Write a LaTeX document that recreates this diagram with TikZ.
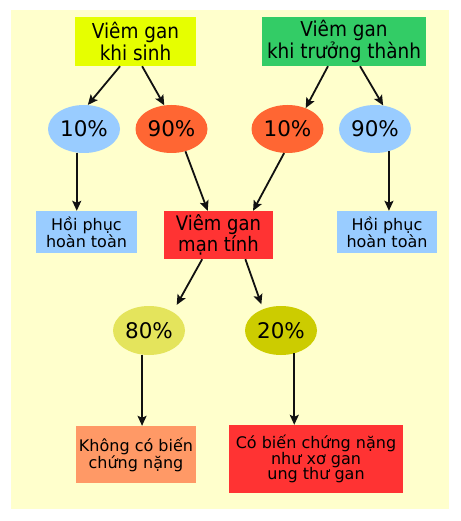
\documentclass[tikz,border=0pt]{standalone}
\usepackage{fontspec}
\setmainfont{DejaVu Sans}
\newfontfamily\condensed{DejaVu Sans Condensed}
\usetikzlibrary{arrows.meta}
\usetikzlibrary{shapes.geometric}
\definecolor{bgyellow}{RGB}{255,255,204}
\definecolor{birthyellow}{RGB}{230,255,0}
\definecolor{adultgreen}{RGB}{51,204,102}
\definecolor{healblue}{RGB}{153,204,255}
\definecolor{riskorange}{RGB}{255,102,51}
\definecolor{chronicred}{RGB}{255,51,51}
\definecolor{mildyellow}{RGB}{228,228,92}
\definecolor{severeolive}{RGB}{204,204,0}
\definecolor{mildorange}{RGB}{255,153,102}
\definecolor{pfeilschwarz}{RGB}{17,17,17}

\begin{document}
\begin{tikzpicture}[x=1pt, y=-1pt,
    box/.style={rectangle, inner sep=0pt, align=center},
    oval/.style={ellipse, inner sep=0pt, minimum width=72pt, minimum height=48pt, font=\fontsize{21.5}{24}\selectfont},
    arr/.style={line width=1.8pt, pfeilschwarz, -{Stealth[length=10pt, width=9pt, inset=2pt]}}]

    \useasboundingbox (0,0) rectangle (460,521);
    \fill[bgyellow] (11,10) rectangle (449,509);

    % Ausgangslage
    \node[box, fill=birthyellow, minimum width=121pt, minimum height=49pt, font=\condensed\fontsize{20.5}{21.5}\selectfont] (birth) at (135.5,41.5) {Viêm gan\\khi sinh};
    \node[box, fill=adultgreen, minimum width=164pt, minimum height=49pt, font=\condensed\fontsize{20.5}{21.5}\selectfont] (adult) at (344,41.5) {Viêm gan\\khi trưởng thành};

    % Anteile
    \node[oval, fill=healblue] (b10) at (84,129) {10\%};
    \node[oval, fill=riskorange] (b90) at (171.5,129) {90\%};
    \node[oval, fill=riskorange] (a10) at (287.5,129) {10\%};
    \node[oval, fill=healblue] (a90) at (375,129) {90\%};

    \node[box, fill=healblue, minimum width=101pt, minimum height=42pt, font=\fontsize{16}{16}\selectfont] (heal1) at (86.5,232) {Hồi phục\\hoàn toàn};
    \node[box, fill=chronicred, minimum width=109pt, minimum height=48pt, font=\condensed\fontsize{20}{16}\selectfont] (chronic) at (218.5,235) {Viêm gan\\mạn tính};
    \node[box, fill=healblue, minimum width=100pt, minimum height=42pt, font=\fontsize{16}{16}\selectfont] (heal2) at (387,232) {Hồi phục\\hoàn toàn};

    \node[oval, fill=mildyellow, minimum height=49pt] (c80) at (149,330.5) {80\%};
    \node[oval, fill=severeolive, minimum height=49pt] (c20) at (281,330.5) {20\%};

    \node[box, fill=mildorange, minimum width=120pt, minimum height=57pt, font=\fontsize{16}{15.5}\selectfont] (mild) at (136,454.5) {Không có biến\\chứng nặng};
    \node[box, fill=chronicred, minimum width=174pt, minimum height=68pt, font=\fontsize{16}{15.5}\selectfont] (severe) at (316,459) {Có biến chứng nặng\\như xơ gan\\ung thư gan};

    % Pfeile
    \draw[arr] (birth.238) -- (b10.81);
    \draw[arr] (birth.285) -- (b90.107);
    \draw[arr] (adult.237) -- (a10.49);
    \draw[arr] (adult.303) -- (a90.71);

    \draw[arr] (b10.253) -- (b10.253 |- heal1.north);
    \draw[arr] (b90.302) -- (chronic.114);
    \draw[arr] (a10.262) -- (chronic.35);
    \draw[arr] (a90.302) -- (a90.302 |- heal2.north);

    \draw[arr, shorten >=8pt] (chronic.236) -- (c80.38);
    \draw[arr, shorten >=5pt] (chronic.318) -- (c20.130);

    \draw[arr] (c80.254) -- (c80.254 |- mild.north);
    \draw[arr] (c20.300) -- (c20.300 |- severe.north);

\end{tikzpicture}
\end{document}
